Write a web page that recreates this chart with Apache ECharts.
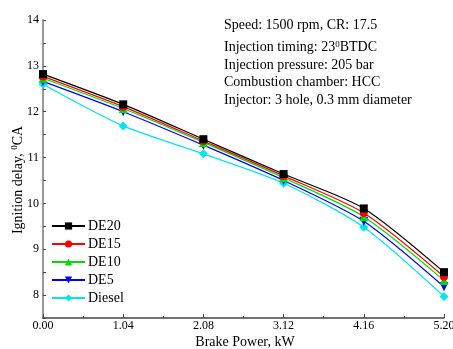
<!DOCTYPE html>
<html><head><meta charset="utf-8">
<script src="https://cdn.jsdelivr.net/npm/echarts@6/dist/echarts.min.js"></script>
<style>html,body{margin:0;padding:0;background:#fff}#c{width:453px;height:349px}</style>
</head><body><div id="c"></div>
<script>
const xValues = [0, 1.04, 2.08, 3.12, 4.16, 5.20];
const seriesNames = ['DE20', 'DE15', 'DE10', 'DE5', 'Diesel'];
const de20 = [12.82, 12.16, 11.40, 10.64, 9.89, 8.50];
const de15 = [12.77, 12.11, 11.36, 10.60, 9.79, 8.40];
const de10 = [12.73, 12.07, 11.33, 10.56, 9.71, 8.32];
const de5 = [12.66, 12.00, 11.27, 10.50, 9.61, 8.18];
const diesel = [12.60, 11.69, 11.08, 10.44, 9.48, 7.97];
const xTitle = 'Brake Power, kW';
const yTitle = 'Ignition delay, {sup|0}CA';
const annotation = [
  'Speed: 1500 rpm, CR: 17.5',
  'Injection timing: 23{sup|0}BTDC',
  'Injection pressure: 205 bar',
  'Combustion chamber: HCC',
  'Injector: 3 hole, 0.3 mm diameter'
];

const colors = ['#000000', '#ff0000', '#00dd00', '#0000ff', '#00e5ee'];
const symbols = ['rect', 'circle', 'triangle', 'path://M0,0L10,0L5,10Z', 'diamond'];
const sizes = [8, 8, 9, 9, 9];
const dataSets = [de20, de15, de10, de5, diesel];
const FONT = 'Liberation Serif';
const annoTops = [18, 40, 58, 75, 93];
const supStyle = { fontFamily: FONT, fontSize: 9, verticalAlign: 'top', padding: [0, 0, 6, 0], fill: '#000' };

const graphics = annotation.map(function (t, i) {
  return {
    type: 'text', left: 224, top: annoTops[i],
    style: { text: t, font: '14px "Liberation Serif"', fill: '#000', rich: { sup: supStyle } }
  };
});
graphics.push({
  type: 'text', x: 245, y: 342,
  style: { text: xTitle, font: '14px "Liberation Serif"', fill: '#000', align: 'center', verticalAlign: 'middle' }
});
graphics.push({
  type: 'text', x: 18, y: 180, rotation: Math.PI / 2,
  style: { text: yTitle, font: '14px "Liberation Serif"', fill: '#000', align: 'center', verticalAlign: 'middle', rich: { sup: supStyle } }
});

const chart = echarts.init(document.getElementById('c'));
chart.setOption({
  animation: false,
  backgroundColor: '#fff',
  grid: { left: 43, right: 9, top: 20, bottom: 31, outerBoundsMode: 'none', containLabel: false },
  legend: {
    orient: 'vertical', left: 46, top: 214, itemGap: 4, itemWidth: 33, itemHeight: 9,
    textStyle: { fontFamily: FONT, fontSize: 14, color: '#000', padding: [0, 0, 0, -2] },
    data: seriesNames
  },
  xAxis: {
    type: 'value', min: 0, max: 5.2, interval: 1.04,
    axisLine: { lineStyle: { color: '#444', width: 1.5 } },
    axisTick: { inside: true, length: 4, lineStyle: { color: '#444' } },
    minorTick: { show: true, splitNumber: 2, length: 2, lineStyle: { color: '#444' } },
    axisLabel: { fontFamily: FONT, fontSize: 12, color: '#000', margin: 2, hideOverlap: false,
      formatter: function (v) { return v.toFixed(2); } },
    splitLine: { show: false }
  },
  yAxis: {
    type: 'value', min: 7.5, max: 14, interval: 0.5,
    axisLine: { show: true, lineStyle: { color: '#777', width: 1.5 } },
    axisTick: { inside: true, length: 3, lineStyle: { color: '#444' } },
    axisLabel: { fontFamily: FONT, fontSize: 12, color: '#000', margin: 4,
      formatter: function (v) { return Number.isInteger(v) ? String(v) : ''; } },
    splitLine: { show: false }
  },
  graphic: graphics,
  series: seriesNames.map(function (n, i) {
    return {
      name: n, type: 'line', smooth: 0.25,
      data: xValues.map(function (x, j) { return [x, dataSets[i][j]]; }),
      symbol: symbols[i], symbolSize: sizes[i],
      lineStyle: { color: colors[i], width: 1.2 },
      itemStyle: { color: colors[i] },
      z: 10 - i
    };
  })
});
</script></body></html>
